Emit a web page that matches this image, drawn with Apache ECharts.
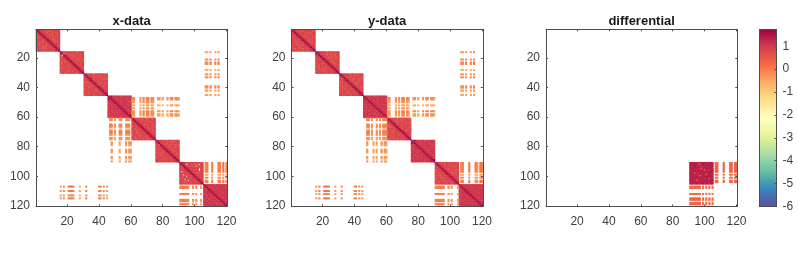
<!DOCTYPE html>
<html><head><meta charset="utf-8">
<style>html,body{margin:0;padding:0;background:#fff}#c{width:798px;height:259px;filter:blur(0.6px)}</style>
<script src="https://cdn.jsdelivr.net/npm/echarts@6/dist/echarts.min.js"></script>
</head><body><div id="c"></div>
<script>
const titles = ['x-data','y-data','differential'];
const cellLabels = Array.from({length:120},(_, i)=>String(i+1));
const colorbarTicks = [-6,-5,-4,-3,-2,-1,0,1];
const spectral = ['#5e4fa2','#3288bd','#66c2a5','#abdda4','#e6f598','#ffffbf','#fee08b','#fdae61','#f46d43','#d53e4f','#9e0142'];
// digit -> colour-scale value for the diagonal blocks
const blockLevels = [-0.6,-0.2,0.1,0.3,0.4,0.5,0.75,0.95,1.15,1.7];
const diffBlockLevels = [-0.6,-0.2,0.1,0.3,0.4,0.5,0.8,0.95,1.3,1.5];
// digit -> colour-scale value for the off-diagonal stripes
const stripeLevels = [-2.0,-1.8,-1.5,-1.2,-0.9,-0.6,-0.3,0.0,0.3,0.6];
const diffStripeLevels = [-1,-1,-1,-1,-0.5,-0.3,-0.1,0.1,0.2,0.35];
const blockStarts = [1,16,31,46,61,76,91,106];

const tex1 = ["988767657667576","898676756567667","889767647756567","768987676567657","677898765747667","656789876667576","767678987656767","576767898765667","667656789876567","674767678987676","566757667898767","765676567789876","676756676678987","567665767767898","676767667676889"];
const tex2 = ["986756767665767","89.767676756676","7.9867565767657","658987676476767","767898656767567","576789876756676","667678987667565","756567898767676","647676789876757","676765678987667","767657667898766","565676767789876","676767576678986","757665676767898","667576767666889"];
const tex3 = ["987676567767665","898767675656767","789876567476676","678987676767565","767898567675676","656789876567767","565678987676756","676767898476767","757656789876567","676467678987676","567676767898767","766757656789876","675676767678987","767567676767898","566767567676889"];
const tex4 = ["989877877687787","898787786877878","989887778787687","878988787878777","787898877787868","778889887878787","877878988787778","787787898877887","688778889887787","877878788988778","786787878898877","878777787889887","777868778788988","878787787787899","787787877878889"];
const tex5 = ["987667676567676","898676567676757","789867676565676","668987676767567","776898765676767","567789876757656","676678987667676","765767898765767","676567789876657","757676678987676","676557667898767","567676767789876","676765676678987","765767657667898","676676767676889"];
const tex6 = ["987767567676677","898676767565676","779867657676767","666987676567565","767898765676676","576789876767567","657678987656767","676767898765676","567656789876767","765767678987656","676567667898767","567676767789876","676765676678987","767657567667898","776676767676889"];
const tex7 = ["988767677676767","8987.6767567.76","7898676757.6767","668987676767567","776898767676.76","767789876767.67","6.6678987677677","767767898765676","67.676789876767","7656.7678987676","676767667898767","567.76767789876","76767.676678987","676567767767898","767676767676889"];
const tex8 = ["988878778787887","898787877878778","889878787787877","878988787878787","787898878787878","878889887787787","778788988878778","877878898787887","787877889878778","878787878988787","778778787898878","877887878789887","788778777878988","878787887787898","787878787878889"];
const texDiff = ["989888898988898","898988589889889","989898888988988","888989888898898","898898958889888","889889898588889","888988989898898","988598898988989","898888889858888","988889588989898","889898988898988","898988898889598","989858888988989","888989898898898","898898889889889"];

const xBlocks = [tex1,tex2,tex3,tex4,tex5,tex6,tex7,tex8];
const yBlocks = [tex5,tex1,tex6,tex8,tex3,tex4,tex5,tex8];
const diffBlocks = {6:texDiff};

// [first row, row profile, first column, column profile]
const xStripes = [
 [16,"5....7.87...4..6.7.....67.6..5",106,".66.7..6.7"],
 [106,".7..7..6.7",16,"5.6..7887...4...7.......67.6.5"],
 [46,".7766.5.6.7776.",61,"66...5.7.77.76."],
 [46,".77...5...7.66.",76,".55.5..5.67.665"],
 [61,"66..775.6775.65",46,".77.6..77..677."],
 [76,".665..665..65.6",46,"..7....5...7.76"],
 [91,"7777777.4.6.77.",106,".77..7...77.8.7"],
 [106,".77...7...77.7.",91,"778777..6.6..5."]
];
const yStripes = [
 [16,"6....7.87...4..6.7.....67.6..5",106,".66.6..6.7"],
 [106,".7..7.6..7",16,"5.7..7887...5...6.......67.6.5"],
 [46,".7765.5.6.7766.",61,"56...6.6.77.75."],
 [46,".76...4...7.66.",76,".56.5..6.67.675"],
 [61,"67..676.6776.65",46,"..77.6..6.6.777"],
 [76,".665..665..65.6",46,"..7...5.5..7.76"],
 [91,"7777777.4.6.77.",106,".77...7...76.87"],
 [106,".77...7...77.7.",91,"777777..6.5...5"]
];
const diffStripes = [
 [91,"9999999.8.8.99.",106,".99...9...99.99"],
 [106,".88...8..99.99.",91,"9999999.8.8.8.8"]
];

function toCells(blocks, stripes, bl, sl){
  const cells = [];
  Object.keys(blocks).forEach(k=>{
    const s = blockStarts[k];
    blocks[k].forEach((row,r)=>{
      for(let c=0;c<row.length;c++){
        if(row[c]!=='.') cells.push([s+c-1,s+r-1,bl[+row[c]]]);
      }
    });
  });
  stripes.forEach(([r0,rp,c0,cp])=>{
    for(let r=0;r<rp.length;r++){ if(rp[r]==='.') continue;
      for(let c=0;c<cp.length;c++){ if(cp[c]==='.') continue;
        cells.push([c0+c-1,r0+r-1,(sl[+rp[r]]+sl[+cp[c]])/2]);
      }
    }
  });
  return cells;
}
const panels = [toCells(xBlocks,xStripes,blockLevels,stripeLevels),toCells(yBlocks,yStripes,blockLevels,stripeLevels),toCells(diffBlocks,diffStripes,diffBlockLevels,diffStripeLevels)];
const lefts = [36,291.5,546];
const W = 191.3, H = 177.2, T = 29.3;
const lineC = '#4d4d4d', textC = '#404040';
const every20 = i => (i+1)%20===0;

const grid=[],xAxis=[],yAxis=[],series=[],titleOpt=[];
lefts.forEach((l,i)=>{
  grid.push({left:l,top:T,width:W,height:H});
  titleOpt.push({text:titles[i],left:l+W/2,top:15,textAlign:'center',padding:0,
    textStyle:{fontFamily:'Liberation Sans',fontSize:13,fontWeight:'bold',color:'#1a1a1a'}});
  const base={type:'category',data:cellLabels,gridIndex:i,z:5,
    axisLine:{show:true,onZero:false,lineStyle:{color:lineC,width:1}},
    axisTick:{show:true,inside:true,length:2,alignWithLabel:true,interval:every20,lineStyle:{color:lineC,width:1}},
    splitLine:{show:false},splitArea:{show:false}};
  const lab={show:true,interval:every20,color:textC,fontFamily:'Liberation Sans',fontSize:12,margin:5};
  xAxis.push({...base,position:'bottom',axisLabel:{...lab,margin:9,hideOverlap:false}});
  xAxis.push({...base,position:'top',axisLabel:{show:false}});
  yAxis.push({...base,position:'left',inverse:true,axisLabel:{...lab,margin:6}});
  yAxis.push({...base,position:'right',inverse:true,axisLabel:{show:false}});
  series.push({type:'heatmap',xAxisIndex:i*2,yAxisIndex:i*2,data:panels[i],progressive:0,animation:false,
    itemStyle:{borderWidth:0},emphasis:{disabled:true}});
});
// colour bar frame and ticks
grid.push({left:759.5,top:T,width:17,height:H});
xAxis.push({type:'value',gridIndex:3,min:0,max:1,position:'top',z:6,axisLine:{show:true,onZero:false,lineStyle:{color:lineC}},axisTick:{show:false},axisLabel:{show:false},splitLine:{show:false}});
xAxis.push({type:'value',gridIndex:3,min:0,max:1,position:'bottom',z:6,axisLine:{show:true,onZero:false,lineStyle:{color:lineC}},axisTick:{show:false},axisLabel:{show:false},splitLine:{show:false}});
yAxis.push({type:'value',gridIndex:3,min:colorbarTicks[0],max:1.74,interval:1,position:'right',z:6,
  axisLine:{show:true,onZero:false,lineStyle:{color:lineC}},axisTick:{show:true,inside:true,length:2,lineStyle:{color:lineC}},
  axisLabel:{color:textC,fontFamily:'Liberation Sans',fontSize:12,margin:6,showMaxLabel:false},splitLine:{show:false}});
yAxis.push({type:'value',gridIndex:3,min:colorbarTicks[0],max:1.74,interval:1,position:'left',z:6,
  axisLine:{show:true,onZero:false,lineStyle:{color:lineC}},axisTick:{show:false},axisLabel:{show:false},splitLine:{show:false}});

const chart=echarts.init(document.getElementById('c'),null,{renderer:'canvas'});
chart.setOption({animation:false,backgroundColor:'#fff',title:titleOpt,grid,xAxis,yAxis,series,
  visualMap:{type:'continuous',min:-6,max:1.74,seriesIndex:[0,1,2],left:759.5,top:T,itemWidth:17,itemHeight:H,padding:0,
    calculable:false,hoverLink:false,realtime:false,inRange:{color:spectral},textStyle:{fontSize:0}}
});
</script></body></html>
